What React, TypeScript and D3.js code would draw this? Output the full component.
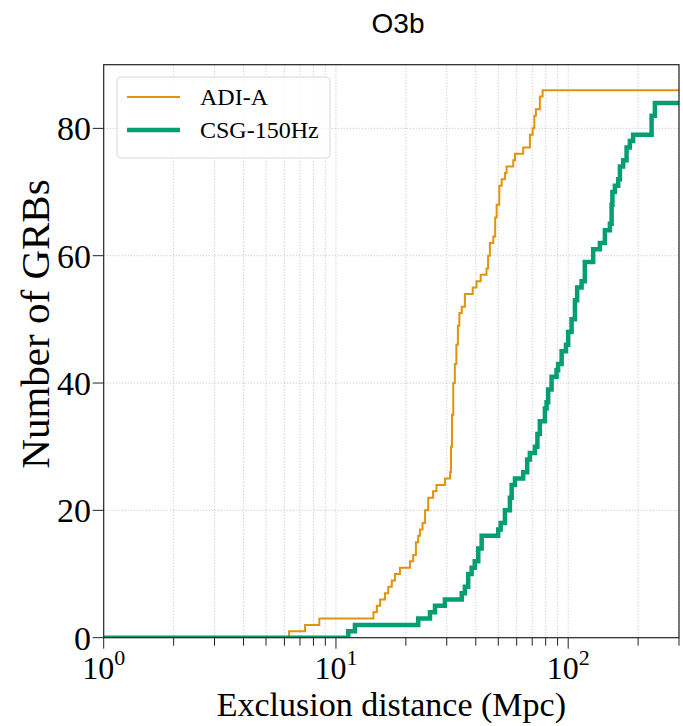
import React from "react";
import * as d3 from "d3";

const title = "O3b";
const xLabel = "Exclusion distance (Mpc)";
const yLabel = "Number of GRBs";
const seriesNames = ["ADI-A", "CSG-150Hz"];
const seriesColors = ["#E1930C", "#049E73"];
const seriesWidths = [2, 4.5];

// step vertices: distance (Mpc) at which the cumulative count becomes `count`
const adiDist = [1, 6.28, 7.36, 8.48, 14.5, 15.0, 15.5, 16.25, 16.8, 17.4, 17.95, 18.86, 20.83, 21.5, 22.1, 22.6, 23.0, 23.6, 24.2, 24.97, 26.2, 27.1, 29.45, 31.0, 31.3, 31.6, 32.0, 32.5, 33.0, 33.5, 34.0, 34.8, 35.9, 38.8, 40.3, 42.0, 44.5, 45.2, 46.0, 47.6, 48.5, 49.2, 50.5, 51.7, 53.4, 54.3, 58.0, 59.0, 64.0, 68.4, 70.3, 71.5, 72.6, 75.5, 77.6, 300];
const adiCount = [0, 1, 2, 3, 4, 5, 6, 7, 8, 9, 10, 11, 12, 13, 15, 16, 17, 18, 20, 22, 23, 24, 25, 26, 30, 35, 40, 43, 46, 49, 51, 52, 54, 55, 56, 57, 58, 60, 62, 63, 66, 68, 71, 72, 73, 74, 75, 76, 77, 79, 80, 82, 83, 85, 86, 86];

const csgDist = [1, 11.3, 12.07, 22.6, 25.4, 26.7, 29.45, 34.8, 35.9, 37.1, 38.4, 39.6, 41.0, 42.4, 49.96, 51.2, 53.4, 56.1, 57.1, 59.0, 64.0, 66.6, 68.4, 71.9, 73.7, 75.5, 79.4, 80.7, 82.0, 84.8, 89.1, 90.5, 93.7, 97.8, 100, 103.4, 106.9, 109.3, 114.2, 117.9, 128.1, 136.9, 143.9, 151.2, 153.8, 155, 158.9, 164.2, 167, 172.5, 178.4, 184.3, 190.4, 228.6, 236.2, 300];
const csgCount = [0, 1, 2, 3, 4, 5, 6, 7, 8, 10, 11, 12, 14, 16, 17, 18, 20, 22, 24, 25, 26, 28, 29, 30, 32, 34, 36, 37, 39, 41, 42, 43, 45, 46, 48, 50, 53, 55, 56, 59, 61, 62, 64, 65, 68, 70, 71, 72, 74, 75, 77, 78, 79, 82, 84, 84];

const xDomain = [1, 300];
const yDomain = [0, 90];
const yTicks = [0, 20, 40, 60, 80];
const xMajorTicks = [1, 10, 100];
const xMajorExps = ["0", "1", "2"];

const W = 683;
const H = 726;
const L = 103.7;
const R = 679;
const T = 64.7;
const B = 637.7;

const serif = "'Liberation Serif', 'Times New Roman', serif";

export default function App() {
  const x = d3.scaleLog().domain(xDomain).range([L, R]);
  const y = d3.scaleLinear().domain(yDomain).range([B, T]);

  const minor: number[] = [];
  for (let k = 0; k < 3; k++) {
    for (let m = 2; m <= 9; m++) {
      const v = m * Math.pow(10, k);
      if (v <= xDomain[1]) minor.push(v);
    }
  }
  const gridX = [...xMajorTicks.slice(1), ...minor];

  const line = d3
    .line<[number, number]>()
    .x((d) => x(d[0]))
    .y((d) => y(d[1]))
    .curve(d3.curveStepAfter);

  const series = [
    adiDist.map((d, i) => [d, adiCount[i]] as [number, number]),
    csgDist.map((d, i) => [d, csgCount[i]] as [number, number]),
  ];

  return (
    <svg width={W} height={H} style={{ position: "absolute", left: 0, top: 0, background: "#fff" }}>
      <rect x={0} y={0} width={W} height={H} fill="#fff" />
      <text x={398} y={33} textAnchor="middle" fontFamily="'Liberation Sans', Arial, sans-serif" fontSize={28} fill="#000">
        {title}
      </text>
      <defs>
        <clipPath id="plotclip">
          <rect x={L} y={T} width={R - L} height={B - T} />
        </clipPath>
      </defs>
      {/* grid */}
      <g stroke="#c4c4c4" strokeWidth={0.9} strokeDasharray="1.2,1.8">
        {gridX.map((v) => (
          <line key={"gx" + v} x1={x(v)} x2={x(v)} y1={T} y2={B} />
        ))}
        {yTicks.slice(1).map((v) => (
          <line key={"gy" + v} x1={L} x2={R} y1={y(v)} y2={y(v)} />
        ))}
      </g>
      {/* series */}
      <g clipPath="url(#plotclip)">
        {series.map((s, i) => (
          <path
            key={i}
            d={line(s) || ""}
            fill="none"
            stroke={seriesColors[i]}
            strokeWidth={seriesWidths[i]}
            strokeLinejoin="miter"
            strokeLinecap="butt"
          />
        ))}
      </g>
      {/* frame */}
      <rect x={L} y={T} width={R - L} height={B - T} fill="none" stroke="#222" strokeWidth={1.2} />
      {/* ticks */}
      <g stroke="#222" strokeWidth={1}>
        {xMajorTicks.map((v) => (
          <line key={"xt" + v} x1={x(v)} x2={x(v)} y1={B} y2={B + 11} />
        ))}
        {minor.map((v) => (
          <line key={"xm" + v} x1={x(v)} x2={x(v)} y1={B} y2={B + 8} />
        ))}
        {yTicks.map((v) => (
          <line key={"yt" + v} x1={L - 11} x2={L} y1={y(v)} y2={y(v)} />
        ))}
      </g>
      {/* x tick labels */}
      {xMajorTicks.map((v, i) => (
        <text key={"xl" + v} x={x(v)} y={679} textAnchor="middle" fontFamily={serif} fontSize={32} fill="#000">
          10
          <tspan dy={-14} fontSize={22}>
            {xMajorExps[i]}
          </tspan>
        </text>
      ))}
      {/* y tick labels */}
      {yTicks.map((v) => (
        <text key={"yl" + v} x={91} y={y(v)} dy="0.35em" textAnchor="end" fontFamily={serif} fontSize={34} fill="#000">
          {v}
        </text>
      ))}
      {/* axis labels */}
      <text x={(L + R) / 2} y={716} textAnchor="middle" fontFamily={serif} fontSize={34} fill="#000">
        {xLabel}
      </text>
      <text
        transform={`translate(49, 324) rotate(-90)`}
        textAnchor="middle"
        fontFamily={serif}
        fontSize={41}
        fill="#000"
      >
        {yLabel}
      </text>
      {/* legend */}
      <rect x={117} y={77} width={213} height={81} rx={4} ry={4} fill="#fff" fillOpacity={0.85} stroke="#d8d8d8" strokeWidth={1} />
      {seriesNames.map((n, i) => (
        <g key={n}>
          <line x1={127} x2={180} y1={97 + i * 33} y2={97 + i * 33} stroke={seriesColors[i]} strokeWidth={seriesWidths[i]} />
          <text x={200} y={97 + i * 33} dy="0.33em" fontFamily={serif} fontSize={24} fill="#000">
            {n}
          </text>
        </g>
      ))}
    </svg>
  );
}
